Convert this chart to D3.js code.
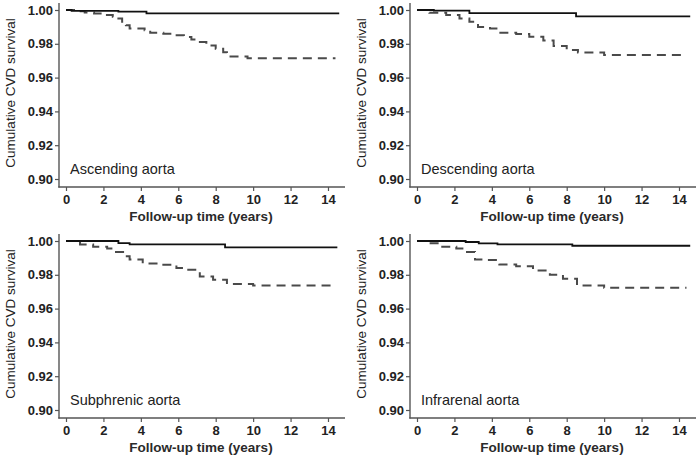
<!DOCTYPE html>
<html><head><meta charset="utf-8">
<script src="https://cdn.jsdelivr.net/npm/d3@7"></script>
<style>
body{margin:0;background:#fff;}
svg{display:block;font-family:"Liberation Sans",Arial,Helvetica,sans-serif;}
</style></head>
<body><svg id="c" width="700" height="458"></svg>
<script>
const panelNames = ["Ascending aorta","Descending aorta","Subphrenic aorta","Infrarenal aorta"];
const xTicks = [0,2,4,6,8,10,12,14];
const yTicks = [0.90,0.92,0.94,0.96,0.98,1.00];
const yTickLabels = ["0.90","0.92","0.94","0.96","0.98","1.00"];

// solid line (group without plaque) : times and survival after each step
const solidT = [
  [0,0.3,2.8,4.3,14.6],
  [0,0.9,2.8,8.5,14.6],
  [0,2.8,3.4,8.5,14.5],
  [0,2.6,3.3,4.3,8.3,14.6]
];
const solidS = [
  [1.000,0.9995,0.9990,0.9980,0.9980],
  [1.000,0.9996,0.9982,0.9962,0.9962],
  [1.000,0.9987,0.9980,0.9962,0.9962],
  [1.000,0.9994,0.9986,0.9980,0.9972,0.9972]
];
// dashed line (group with plaque)
const dashT = [
  [0,0.5,1.0,1.5,2.0,2.5,2.8,3.0,3.2,3.4,4.2,4.5,5.2,5.8,6.3,6.7,7.0,7.5,8.0,8.4,8.6,9.7,14.4],
  [0,0.66,1.56,2.27,2.8,3.26,3.9,4.4,5.3,6.0,6.75,7.3,8.0,8.6,10.0,14.4],
  [0,0.75,1.45,2.2,2.5,3.05,3.4,4.1,5.0,5.9,6.45,7.15,7.86,8.6,10.0,14.3],
  [0,0.5,1.2,2.1,2.6,3.1,3.7,4.4,5.3,6.2,7.1,7.8,8.55,10.0,14.4]
];
const dashS = [
  [1.000,0.9992,0.9985,0.998,0.997,0.996,0.995,0.993,0.991,0.989,0.988,0.9865,0.986,0.985,0.984,0.9825,0.981,0.979,0.977,0.975,0.9725,0.9715,0.9715],
  [1.000,0.9984,0.997,0.995,0.993,0.990,0.989,0.9866,0.9858,0.9842,0.982,0.9787,0.9763,0.9748,0.9733,0.9733],
  [1.000,0.998,0.9966,0.9955,0.9935,0.991,0.989,0.9867,0.986,0.984,0.983,0.979,0.977,0.9745,0.9737,0.9737],
  [1.000,0.9986,0.9966,0.9955,0.9935,0.989,0.9887,0.9861,0.9851,0.9826,0.980,0.9776,0.9737,0.9723,0.9723]
];

const svg = d3.select("#c");
const offsets = [[0,0],[351,0],[0,231],[351,231]];
const axisCol = "#555";

panelNames.forEach((name,i)=>{
  const [ox,oy] = offsets[i];
  const g = svg.append("g").attr("transform",`translate(${ox},${oy})`);
  const x = d3.scaleLinear().domain([0,15]).range([66,346.7]);
  const y = d3.scaleLinear().domain([0.90,1.00]).range([179,10]);

  // y axis
  const ya = g.append("g").attr("transform","translate(59,0)")
    .call(d3.axisLeft(y).tickValues(yTicks).tickFormat((d,j)=>yTickLabels[j]).tickSize(4).tickSizeOuter(0));
  ya.select(".domain").remove();
  ya.selectAll("line").attr("stroke",axisCol).attr("stroke-width",1.2);
  ya.selectAll("text").attr("font-size",13).attr("font-weight","bold").attr("fill","#222").attr("x",-6);
  g.append("line").attr("x1",59).attr("x2",59).attr("y1",3).attr("y2",187.5)
    .attr("stroke",axisCol).attr("stroke-width",1.4);

  // x axis
  const xa = g.append("g").attr("transform","translate(0,187)")
    .call(d3.axisBottom(x).tickValues(xTicks).tickSize(4).tickSizeOuter(0));
  xa.select(".domain").remove();
  xa.selectAll("line").attr("stroke",axisCol).attr("stroke-width",1.2);
  xa.selectAll("text").attr("font-size",13).attr("font-weight","bold").attr("fill","#222").attr("y",8);
  g.append("line").attr("x1",58.3).attr("x2",345).attr("y1",187).attr("y2",187)
    .attr("stroke",axisCol).attr("stroke-width",1.4);

  // titles
  g.append("text").attr("x",201).attr("y",221).attr("text-anchor","middle")
    .attr("font-size",13.5).attr("font-weight","bold").attr("fill","#2a2a2a").text("Follow-up time (years)");
  g.append("text").attr("transform","translate(15,93) rotate(-90)").attr("text-anchor","middle")
    .attr("font-size",13.5).attr("fill","#222").text("Cumulative CVD survival");
  g.append("text").attr("x",70).attr("y",174).attr("font-size",14.5).attr("fill","#222").text(name);

  const line = d3.line().x(d=>x(d[0])).y(d=>y(d[1])).curve(d3.curveStepAfter);
  const sData = solidT[i].map((t,j)=>[t,solidS[i][j]]);
  const dData = dashT[i].map((t,j)=>[t,dashS[i][j]]);
  g.append("path").attr("d",line(dData)).attr("fill","none").attr("stroke","#4a4a4a")
    .attr("stroke-width",2).attr("stroke-dasharray","9,6");
  g.append("path").attr("d",line(sData)).attr("fill","none").attr("stroke","#111")
    .attr("stroke-width",1.8);
});
</script></body></html>
